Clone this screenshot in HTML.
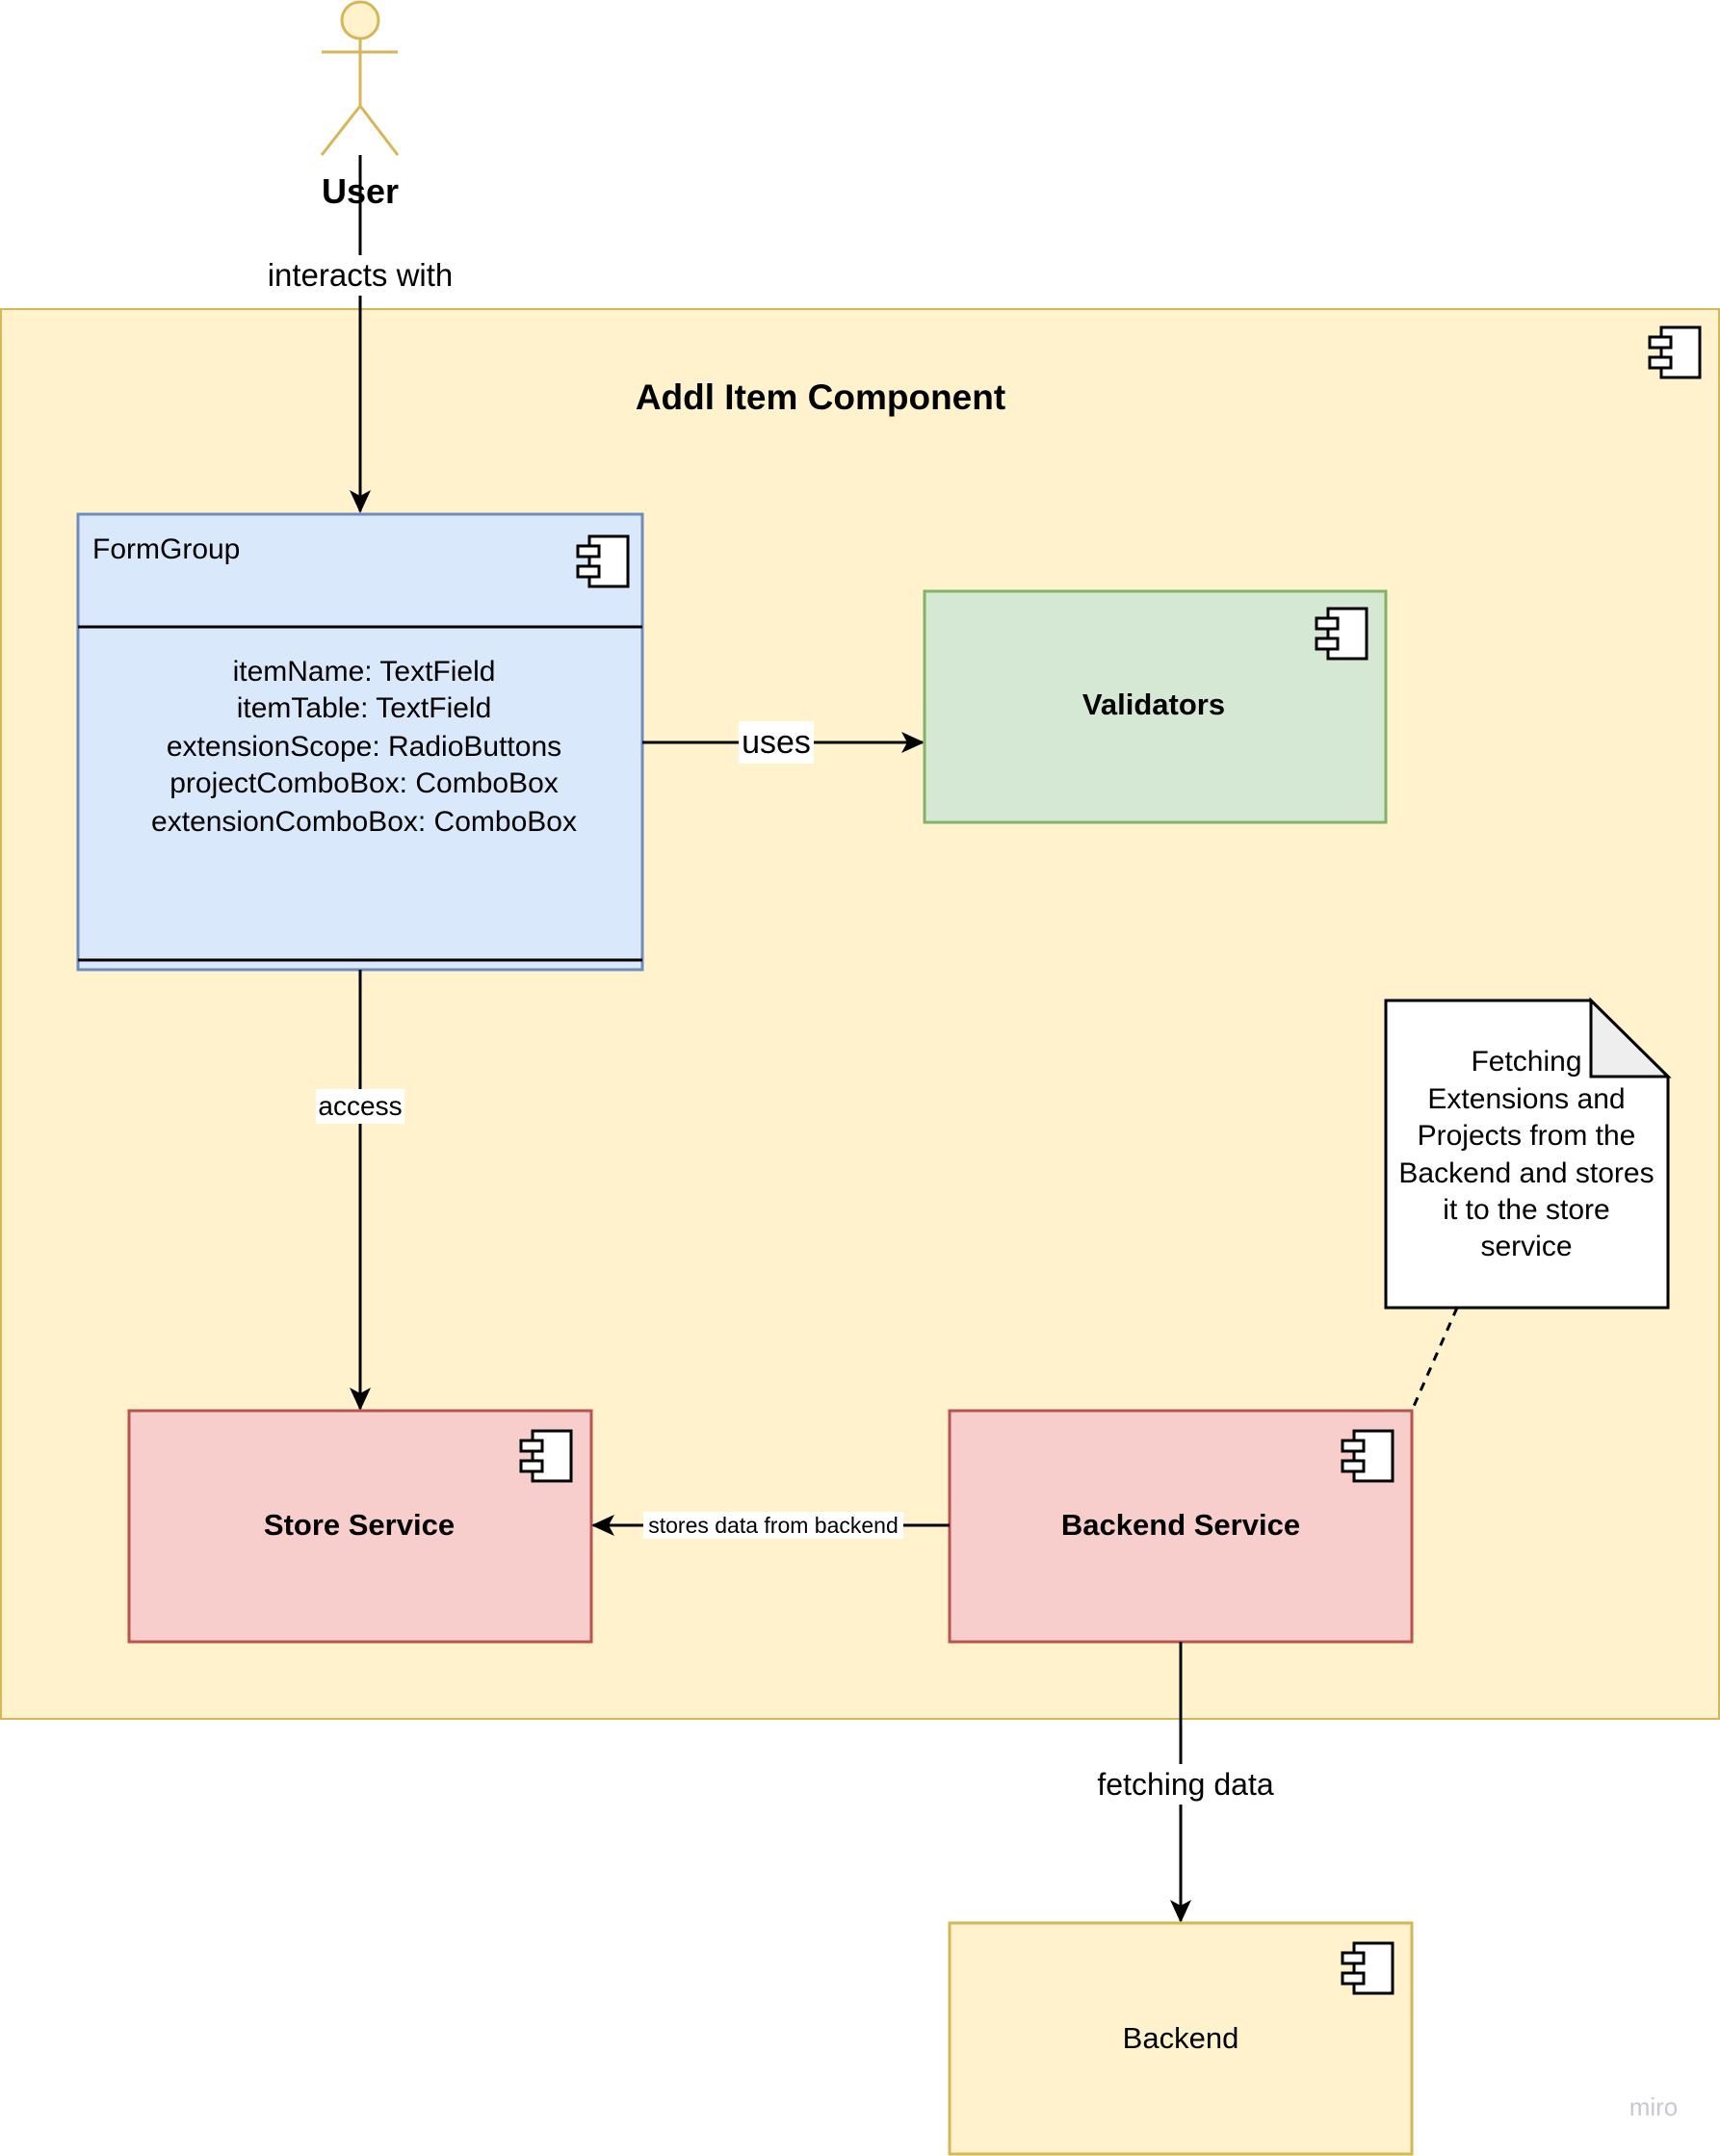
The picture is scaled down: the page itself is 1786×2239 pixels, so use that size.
<!DOCTYPE html>
<html><head><meta charset="utf-8"><style>
html,body{margin:0;padding:0;background:#fff}
svg{display:block}
text{font-family:"Liberation Sans",Arial,sans-serif}
</style></head><body>
<svg width="1786" height="2239" viewBox="0 0 1786 2239" xmlns="http://www.w3.org/2000/svg">
<defs>
<g id="ic">
<rect x="12" y="0" width="40" height="52" fill="#fff" stroke="#000" stroke-width="3"/>
<rect x="0" y="10" width="22" height="11" fill="#fff" stroke="#000" stroke-width="3"/>
<rect x="0" y="31" width="22" height="11" fill="#fff" stroke="#000" stroke-width="3"/>
</g>
<marker id="ar2" markerWidth="26" markerHeight="26" refX="22" refY="13" orient="auto" markerUnits="userSpaceOnUse"><path d="M0,2 L24,13 L0,24 L6,13 Z" fill="#000"/></marker>
</defs>

<rect x="1" y="321" width="1784" height="1464" fill="#fff2cc" stroke="#d6b656" stroke-width="2"/>
<use href="#ic" x="1713" y="340"/>
<text x="852" y="425" font-size="37" font-weight="bold" text-anchor="middle">Addl Item Component</text>

<g stroke="#d6b656" stroke-width="3" fill="none">
<circle cx="374" cy="21" r="19" fill="#fff2cc"/>
<line x1="374" y1="40" x2="374" y2="110"/>
<line x1="334" y1="54" x2="413" y2="54"/>
<line x1="374" y1="110" x2="334" y2="161"/>
<line x1="374" y1="110" x2="413" y2="161"/>
</g>
<line x1="374" y1="161" x2="374" y2="531" stroke="#000" stroke-width="3" marker-end="url(#ar2)"/>
<text x="374" y="211" font-size="36" font-weight="bold" text-anchor="middle">User</text>
<rect x="265" y="265" width="218" height="42" fill="#fff"/>
<text x="374" y="297" font-size="33" text-anchor="middle">interacts with</text>

<rect x="81" y="534" width="586" height="473" fill="#dae8fc" stroke="#6c8ebf" stroke-width="3"/>
<line x1="81" y1="651" x2="667" y2="651" stroke="#000" stroke-width="3"/>
<line x1="81" y1="997" x2="667" y2="997" stroke="#000" stroke-width="3"/>
<text x="96" y="580" font-size="30">FormGroup</text>
<use href="#ic" x="600" y="557"/>
<g font-size="30" text-anchor="middle">
<text x="378" y="707">itemName: TextField</text>
<text x="378" y="745">itemTable: TextField</text>
<text x="378" y="785">extensionScope: RadioButtons</text>
<text x="378" y="823">projectComboBox: ComboBox</text>
<text x="378" y="863">extensionComboBox: ComboBox</text>
</g>

<line x1="667" y1="771" x2="958" y2="771" stroke="#000" stroke-width="3" marker-end="url(#ar2)"/>
<rect x="767" y="749" width="78" height="44" fill="#fff"/>
<text x="806" y="782" font-size="34" text-anchor="middle">uses</text>

<rect x="960" y="614" width="479" height="240" fill="#d5e8d4" stroke="#82b366" stroke-width="3"/>
<use href="#ic" x="1367" y="632"/>
<text x="1198" y="742" font-size="31" font-weight="bold" text-anchor="middle">Validators</text>

<line x1="374" y1="1007" x2="374" y2="1463" stroke="#000" stroke-width="3" marker-end="url(#ar2)"/>
<rect x="328" y="1131" width="92" height="36" fill="#fff"/>
<text x="374" y="1158" font-size="28" text-anchor="middle">access</text>

<path d="M1439,1039 L1652,1039 L1732,1118 L1732,1358 L1439,1358 Z" fill="#fff" stroke="#000" stroke-width="3"/>
<path d="M1652,1039 L1652,1118 L1732,1118 Z" fill="#eeeeee" stroke="#000" stroke-width="3"/>
<g font-size="30" text-anchor="middle">
<text x="1585" y="1112">Fetching</text>
<text x="1585" y="1151">Extensions and</text>
<text x="1585" y="1189">Projects from the</text>
<text x="1585" y="1228">Backend and stores</text>
<text x="1585" y="1266">it to the store</text>
<text x="1585" y="1304">service</text>
</g>
<line x1="1513" y1="1358" x2="1466" y2="1465" stroke="#000" stroke-width="3" stroke-dasharray="9,8"/>

<rect x="134" y="1465" width="480" height="240" fill="#f8cecc" stroke="#b85450" stroke-width="3"/>
<use href="#ic" x="541" y="1486"/>
<text x="373" y="1594" font-size="31" font-weight="bold" text-anchor="middle">Store Service</text>

<rect x="986" y="1465" width="480" height="240" fill="#f8cecc" stroke="#b85450" stroke-width="3"/>
<use href="#ic" x="1394" y="1486"/>
<text x="1226" y="1594" font-size="31" font-weight="bold" text-anchor="middle">Backend Service</text>

<line x1="986" y1="1584" x2="616" y2="1584" stroke="#000" stroke-width="3" marker-end="url(#ar2)"/>
<rect x="668" y="1570" width="270" height="28" fill="#fff"/>
<text x="803" y="1592" font-size="23" text-anchor="middle">stores data from backend</text>

<line x1="1226" y1="1705" x2="1226" y2="1995" stroke="#000" stroke-width="3" marker-end="url(#ar2)"/>
<rect x="1126" y="1832" width="210" height="42" fill="#fff"/>
<text x="1231" y="1864" font-size="32" text-anchor="middle">fetching data</text>

<rect x="986" y="1997" width="480" height="240" fill="#fff2cc" stroke="#d6b656" stroke-width="3"/>
<use href="#ic" x="1394" y="2018"/>
<text x="1226" y="2127" font-size="31" text-anchor="middle">Backend</text>

<text x="1717" y="2197" font-size="26" fill="#c8c8d4" text-anchor="middle">miro</text>
</svg>
</body></html>
